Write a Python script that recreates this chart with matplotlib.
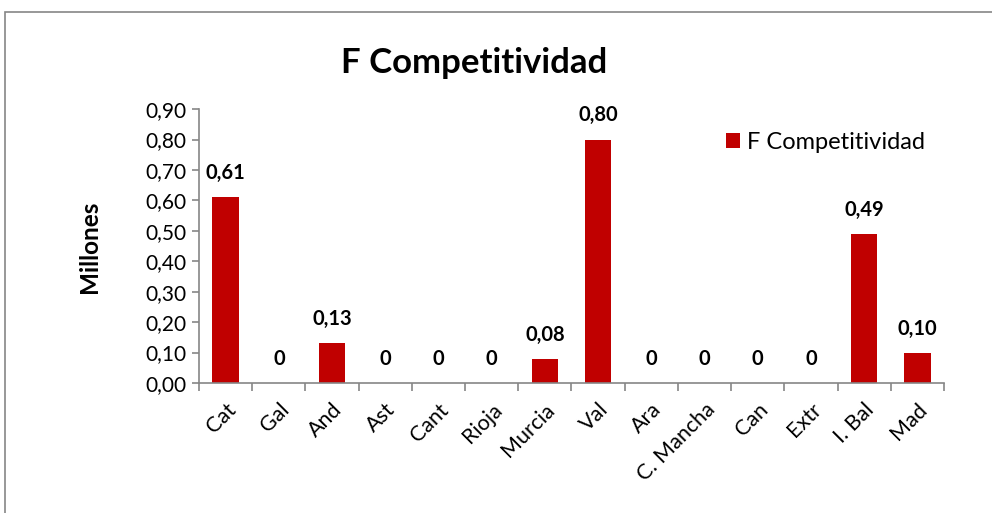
import numpy as np
import matplotlib.pyplot as plt
from matplotlib.patches import Rectangle

# Datos
regiones = ["Cat", "Gal", "And", "Ast", "Cant", "Rioja", "Murcia", "Val",
            "Ara", "C. Mancha", "Can", "Extr", "I. Bal", "Mad"]
valores = [0.61, 0, 0.13, 0, 0, 0, 0.078, 0.80, 0, 0, 0, 0, 0.49, 0.097]

plt.rcParams['font.family'] = ['Lato', 'DejaVu Sans']

rojo = "#C00000"
gris = "#868686"

fig = plt.figure(figsize=(9.92, 5.13), dpi=100)
# marco del gráfico
fig.patches.append(Rectangle((5 / 992, -0.1), 1.2, 1 - 12 / 513 + 0.1,
                             transform=fig.transFigure, fill=False,
                             edgecolor=gris, linewidth=1.2))

ax = fig.add_axes([0.2006, 0.2534, 0.751, 0.534])
x = np.arange(len(regiones))
ax.bar(x, valores, width=0.5, color=rojo, label="F Competitividad")

# etiquetas de datos
for xi, v in zip(x, valores):
    txt = "0" if v == 0 else f"{v:.2f}".replace(".", ",")
    ax.text(xi, v + 0.047, txt, ha="center", va="bottom",
            fontsize=14.5, fontweight="bold")

ax.set_xlim(-0.5, len(regiones) - 0.5)
ax.set_ylim(0, 0.9)
yt = np.arange(0, 0.91, 0.1)
ax.set_yticks(yt)
ax.set_yticklabels([f"{t:.2f}".replace(".", ",") for t in yt], fontsize=15)
ax.set_xticks(x)
ax.set_xticklabels(regiones, rotation=45, ha="right", rotation_mode="anchor",
                   fontsize=15.5)
ax.tick_params(axis="x", length=0, pad=12)
ax.set_xticks(np.arange(-0.5, len(regiones)), minor=True)
ax.tick_params(axis="x", which="minor", length=6, color=gris, width=1.2)
ax.tick_params(axis="y", length=5, color=gris, width=1.2, pad=4)

for s in ["top", "right"]:
    ax.spines[s].set_visible(False)
for s in ["left", "bottom"]:
    ax.spines[s].set_color(gris)
    ax.spines[s].set_linewidth(1.2)

ax.set_ylabel("Millones", fontsize=17.5, fontweight="bold")
ax.yaxis.set_label_coords(-0.1315, 0.496)

fig.text(0.478, 0.878, "F Competitividad", ha="center", va="center",
         fontsize=25, fontweight="bold")

ax.legend(loc="upper left", bbox_to_anchor=(0.679, 0.995), frameon=False,
          fontsize=17, handlelength=0.6, handleheight=0.6, handletextpad=0.3)

fig.savefig("out.png", dpi=100)
